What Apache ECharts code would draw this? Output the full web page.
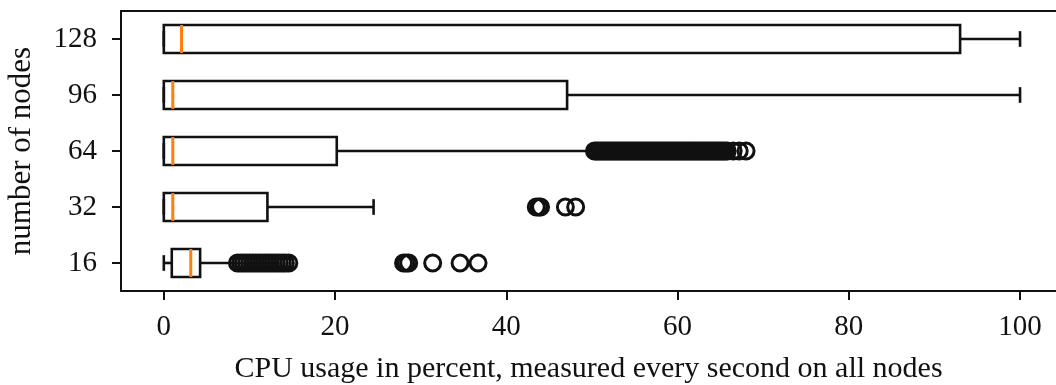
<!DOCTYPE html>
<html>
<head>
<meta charset="utf-8">
<script src="https://cdn.jsdelivr.net/npm/echarts@6/dist/echarts.min.js"></script>
<style>
  html, body { margin: 0; padding: 0; background: #fff; }
  #chart { width: 1056px; height: 385px; }
</style>
</head>
<body>
<div id="chart"></div>
<script>
// 节点数（y轴从下到上）
var categories = ['16', '32', '64', '96', '128'];

// 箱线图统计量
var whiskerLow  = [0,    0,    0,    0,    0];
var q1          = [0.93, 0,    0,    0,    0];
var median      = [3.15, 1.05, 1.05, 1.05, 2.07];
var q3          = [4.24, 12.1, 20.2, 47.1, 93.0];
var whiskerHigh = [8.4,  24.5, 50.0, 100,  100];

// 离群点
var fliers16 = [8.6, 8.95, 9.3, 9.65, 10.0, 10.35, 10.7, 11.05, 11.4, 11.75,
                12.1, 12.45, 12.8, 13.15, 13.5, 13.85, 14.2, 14.6,
                28.0, 28.3, 28.6, 31.4, 34.6, 36.7];
var fliers32 = [43.5, 43.8, 44.0, 46.9, 48.1];
var fliers64 = [50.3, 50.55, 50.8, 51.05, 51.3, 51.55, 51.8, 52.05, 52.3, 52.55,
                52.8, 53.05, 53.3, 53.55, 53.8, 54.05, 54.3, 54.55, 54.8, 55.05,
                55.3, 55.55, 55.8, 56.05, 56.3, 56.55, 56.8, 57.05, 57.3, 57.55,
                57.8, 58.05, 58.3, 58.55, 58.8, 59.05, 59.3, 59.55, 59.8, 60.05,
                60.3, 60.55, 60.8, 61.05, 61.3, 61.55, 61.8, 62.05, 62.3, 62.55,
                62.8, 63.05, 63.3, 63.55, 63.8, 64.05, 64.3, 64.55, 64.8, 65.05,
                65.3, 65.55, 65.8, 66.5, 67.2, 68.0];
var fliers96 = [];
var fliers128 = [];

var xTicks = [0, 20, 40, 60, 80, 100];

var boxData = categories.map(function (c, i) {
    return [i, whiskerLow[i], q1[i], median[i], q3[i], whiskerHigh[i]];
});
var flierData = [];
[fliers16, fliers32, fliers64, fliers96, fliers128].forEach(function (arr, i) {
    arr.forEach(function (v) { flierData.push([v, i]); });
});

var ink = '#111111';
var font = 'Liberation Serif';

var chart = echarts.init(document.getElementById('chart'), null, {renderer: 'canvas'});

function renderBox(params, api) {
    var cat = api.value(0);
    var band = api.size([0, 1])[1];
    var half = band * 0.25;      // 箱体半高
    var capHalf = band * 0.14;   // 须端半长
    var y = api.coord([0, cat])[1];
    function px(v) { return api.coord([v, cat])[0]; }
    var lo = px(api.value(1)), b1 = px(api.value(2)), md = px(api.value(3)),
        b3 = px(api.value(4)), hi = px(api.value(5));
    var lineStyle = {stroke: ink, lineWidth: 2.6, fill: null};
    return {
        type: 'group',
        children: [
            {type: 'line', shape: {x1: lo, y1: y, x2: b1, y2: y}, style: lineStyle},
            {type: 'line', shape: {x1: b3, y1: y, x2: hi, y2: y}, style: lineStyle},
            {type: 'line', shape: {x1: lo, y1: y - capHalf, x2: lo, y2: y + capHalf}, style: lineStyle},
            {type: 'line', shape: {x1: hi, y1: y - capHalf, x2: hi, y2: y + capHalf}, style: lineStyle},
            {type: 'rect', shape: {x: b1, y: y - half, width: b3 - b1, height: half * 2},
             style: {stroke: ink, lineWidth: 2.6, fill: null, lineJoin: 'miter'}},
            {type: 'line', shape: {x1: md, y1: y - half, x2: md, y2: y + half},
             style: {stroke: '#ff7f0e', lineWidth: 3}}
        ]
    };
}

var option = {
    animation: false,
    backgroundColor: '#fff',
    grid: {left: 121, right: 0, top: 11, bottom: 94, containLabel: false,
           outerBoundsMode: 'none'},
    xAxis: [{
        type: 'value',
        min: -5, max: 104.2,
        name: 'CPU usage in percent, measured every second on all nodes',
        nameLocation: 'middle',
        nameGap: 63,
        nameTextStyle: {fontFamily: font, fontSize: 30, color: ink},
        axisLine: {show: true, onZero: false, lineStyle: {color: ink, width: 2}},
        axisTick: {show: true, length: 9, lineStyle: {color: ink, width: 2},
                   customValues: xTicks},
        axisLabel: {fontFamily: font, fontSize: 29, color: ink, margin: 22,
                    customValues: xTicks},
        splitLine: {show: false}
    }, {
        // 顶部边框
        type: 'value',
        position: 'top',
        min: -5, max: 104.2,
        axisLine: {show: true, onZero: false, lineStyle: {color: ink, width: 2}},
        axisTick: {show: false},
        axisLabel: {show: false},
        splitLine: {show: false}
    }],
    yAxis: {
        type: 'category',
        data: categories,
        name: 'number of nodes',
        nameLocation: 'middle',
        nameGap: 84,
        nameRotate: 90,
        nameTextStyle: {fontFamily: font, fontSize: 31, color: ink},
        axisLine: {show: true, onZero: false, lineStyle: {color: ink, width: 2}},
        axisTick: {show: true, alignWithLabel: true, length: 9, lineStyle: {color: ink, width: 2}},
        axisLabel: {fontFamily: font, fontSize: 29, color: ink, margin: 24},
        splitLine: {show: false}
    },
    series: [
        {
            type: 'custom',
            renderItem: renderBox,
            data: boxData,
            encode: {x: [1, 2, 3, 4, 5], y: 0},
            z: 2
        },
        {
            type: 'scatter',
            data: flierData,
            symbol: 'circle',
            symbolSize: 16,
            itemStyle: {color: 'rgba(0,0,0,0)', borderColor: ink, borderWidth: 3, opacity: 1},
            z: 3
        }
    ]
};

chart.setOption(option);
</script>
</body>
</html>
